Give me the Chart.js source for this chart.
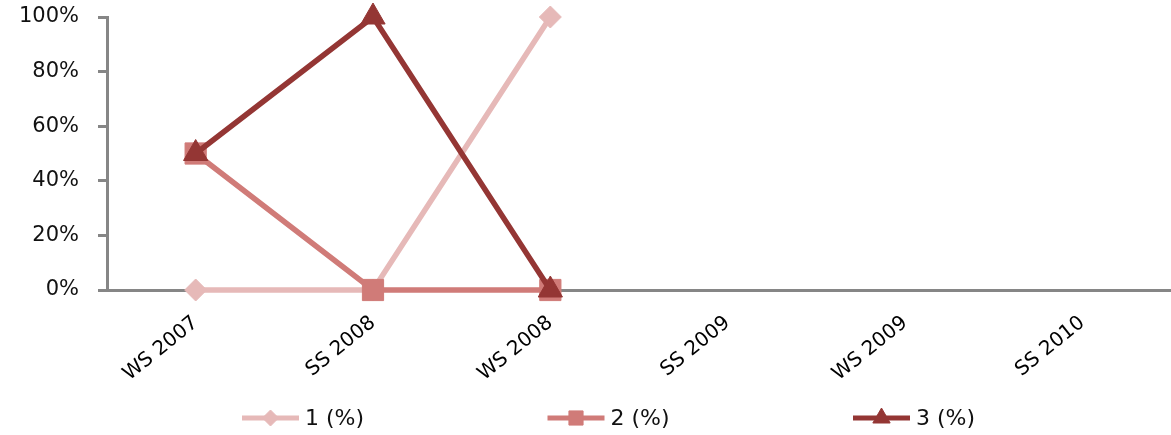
<!DOCTYPE html>
<html>
<head>
<meta charset="utf-8">
<script src="https://cdn.jsdelivr.net/npm/chart.js@4/dist/chart.umd.min.js"></script>
<style>
  html, body { margin: 0; padding: 0; background: #fff; }
  #wrap { width: 1171px; height: 435px; position: relative; }
</style>
</head>
<body>
<div id="wrap"><canvas id="chart"></canvas></div>
<script>
// semesters on the x axis
const semesters = ["WS 2007", "SS 2008", "WS 2008", "SS 2009", "WS 2009", "SS 2010"];

// share per answer (%), empty where no data
const share1 = [0, 0, 100, null, null, null];
const share2 = [50, 0, 0, null, null, null];
const share3 = [50, 100, 0, null, null, null];

const seriesNames = ["1 (%)", "2 (%)", "3 (%)"];
const yTicks = [0, 20, 40, 60, 80, 100];

const FONT = "'DejaVu Sans', Verdana, sans-serif";
const AXIS_GREY = "#868686";

// legend under the chart: line + marker + text
const lineLegend = {
    id: 'lineLegend',
    afterDraw(chart) {
        const ctx = chart.ctx;
        const y = 418;
        const step = 305.5;
        const x0 = 242;
        const legendRadius = { rectRot: 8, rect: 10, triangle: 10 };
        chart.data.datasets.forEach((ds, i) => {
            const x = x0 + i * step;
            ctx.save();
            ctx.strokeStyle = ds.borderColor;
            ctx.lineWidth = 5;
            ctx.beginPath();
            ctx.moveTo(x, y);
            ctx.lineTo(x + 57, y);
            ctx.stroke();
            ctx.fillStyle = ds.borderColor;
            ctx.strokeStyle = ds.borderColor;
            ctx.lineWidth = 1;
            Chart.helpers.drawPoint(ctx, { pointStyle: ds.pointStyle, radius: legendRadius[ds.pointStyle], borderWidth: 1 }, x + 28.5, y);
            ctx.fillStyle = '#111';
            ctx.font = "22px " + FONT;
            ctx.textBaseline = 'middle';
            ctx.textAlign = 'left';
            ctx.fillText(ds.label, x + 63, y + 1);
            ctx.restore();
        });
    }
};

function makeSet(label, data, color, style, radius, order) {
    return {
        label: label,
        data: data,
        borderColor: color,
        backgroundColor: color,
        pointBackgroundColor: color,
        pointBorderColor: color,
        borderWidth: 5.5,
        pointStyle: style,
        pointRadius: radius,
        pointHoverRadius: radius,
        pointBorderWidth: 1,
        tension: 0,
        spanGaps: false,
        clip: false,
        order: order
    };
}

new Chart(document.getElementById('chart'), {
    type: 'line',
    data: {
        labels: semesters,
        datasets: [
            makeSet(seriesNames[0], share1, '#E6B9B8', 'rectRot', 11, 2),
            makeSet(seriesNames[1], share2, '#D07B78', 'rect', 15, 1),
            makeSet(seriesNames[2], share3, '#943634', 'triangle', 14, 0)
        ]
    },
    options: {
        responsive: true,
        maintainAspectRatio: false,
        animation: false,
        layout: { autoPadding: false, padding: { top: 17, left: 0, right: 0, bottom: 0 } },
        plugins: {
            legend: { display: false },
            tooltip: { enabled: false }
        },
        scales: {
            x: {
                offset: true,
                grid: { display: false },
                border: { display: true, color: AXIS_GREY, width: 3 },
                ticks: {
                    color: '#000',
                    font: { family: FONT, size: 20 },
                    minRotation: 39,
                    maxRotation: 39,
                    padding: 13
                },
                afterFit(scale) {
                    scale.height = 145;
                    scale.paddingLeft = 0;
                    scale.paddingRight = 0;
                }
            },
            y: {
                min: 0,
                max: 100,
                afterBuildTicks(scale) { scale.ticks = yTicks.map(v => ({ value: v })); },
                grid: {
                    drawOnChartArea: false,
                    drawTicks: true,
                    tickLength: 9,
                    color: AXIS_GREY,
                    lineWidth: 3
                },
                border: { display: true, color: AXIS_GREY, width: 3 },
                ticks: {
                    color: '#111',
                    font: { family: FONT, size: 21 },
                    padding: 19,
                    callback: v => v + '%'
                },
                afterFit(scale) {
                    scale.width = 107;
                    scale.paddingTop = 0;
                    scale.paddingBottom = 0;
                }
            }
        }
    },
    plugins: [lineLegend]
});
</script>
</body>
</html>
